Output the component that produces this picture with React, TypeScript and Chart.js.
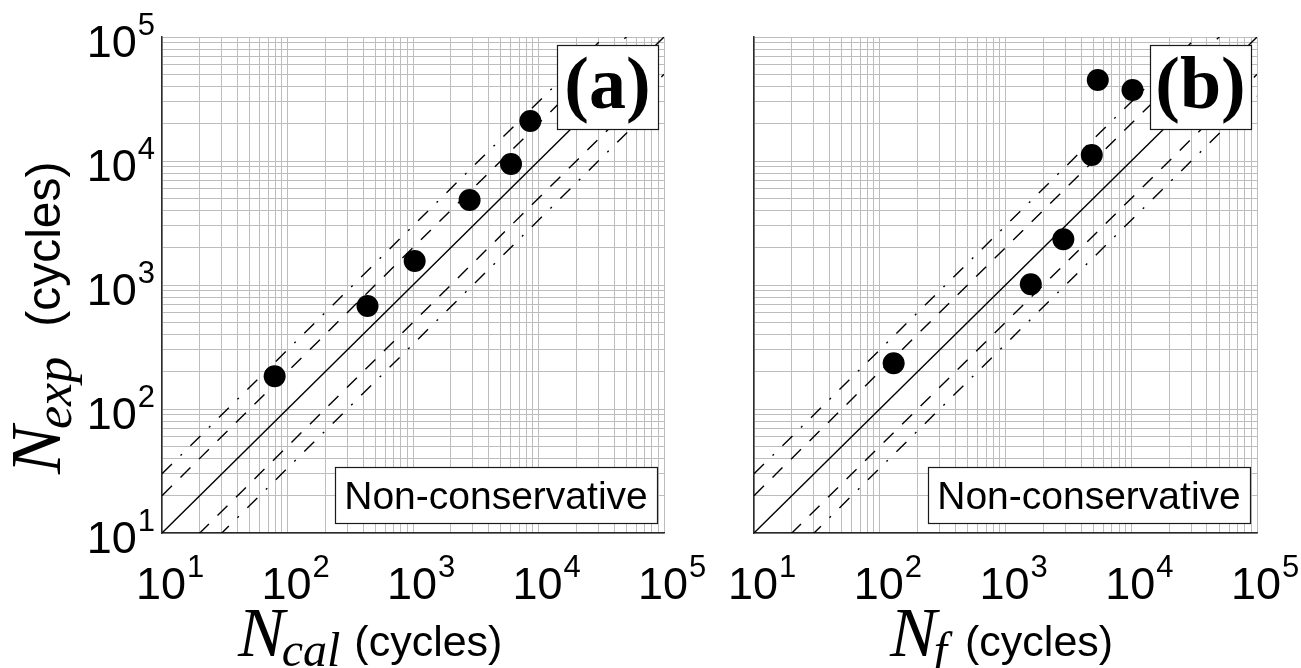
import { useEffect, useRef } from "react";
import { Chart, registerables } from "chart.js";

Chart.register(...registerables);

// Decade ticks shared by both log axes, with the exponent printed for each
const decadeValues = [10, 100, 1000, 10000, 100000];
const decadeExponents = ["1", "2", "3", "4", "5"];
// Mantissas for the minor log grid inside each decade
const gridMantissas = [1, 2, 3, 4, 5, 6, 7, 8, 9];

// Panel (a): calculated life against experimental life
const calculatedLife = [79, 434, 1031, 2825, 6039, 8610];
const experimentalLifeA = [184, 678, 1563, 4842, 9465, 21040];

// Panel (b): fatigue life against experimental life
const fatigueLife = [129, 1589, 2884, 4853, 5418, 10230];
const experimentalLifeB = [234, 1014, 2339, 11170, 44950, 37400];

// Scatter bands: perfect agreement, factor-of-2 and factor-of-3 limits
const agreementFactor = [1];
const factorTwoBand = [2, 0.5];
const factorThreeBand = [3, 1 / 3];
const diagonalEnds = [10, 100000];

const panelTags = ["(a)", "(b)"];
const regionLabel = "Non-conservative";
const xSubscripts = ["cal", "f"];
const ySubscript = "exp";
const unitText = "(cycles)";

const W = 1301;
const H = 668;
const SANS = '"Liberation Sans", Arial, sans-serif';
const SERIF = '"Liberation Serif", "Times New Roman", serif';

type Area = { left: number; top: number; right: number; bottom: number };

type PanelSpec = {
  xs: number[];
  ys: number[];
  area: Area;
  tag: string;
  xSub: string;
  xTitleLeft: number;
  xSubGap: number;
  showYAxisText: boolean;
};

function logGridTicks() {
  const ticks: { value: number; major: boolean }[] = [];
  for (let d = 0; d < decadeValues.length - 1; d++) {
    for (const m of gridMantissas) {
      ticks.push({ value: m * decadeValues[d], major: m === 1 });
    }
  }
  ticks.push({ value: decadeValues[decadeValues.length - 1], major: true });
  return ticks;
}

function drawBox(ctx: CanvasRenderingContext2D, x: number, y: number, w: number, h: number) {
  ctx.fillStyle = "#ffffff";
  ctx.fillRect(x, y, w, h);
  ctx.strokeStyle = "#1a1a1a";
  ctx.lineWidth = 1.2;
  ctx.strokeRect(Math.round(x) + 0.5, Math.round(y) + 0.5, Math.round(w), Math.round(h));
}

function annotationPlugin(spec: PanelSpec) {
  return {
    id: "panelText",
    afterDatasetsDraw(chart: any) {
      const ctx: CanvasRenderingContext2D = chart.ctx;
      const a = chart.chartArea;
      ctx.save();
      // panel tag in the upper right corner
      const tagW = 101;
      const tagH = 84;
      const tagX = a.right - 6 - tagW;
      const tagY = a.top + 8;
      drawBox(ctx, tagX, tagY, tagW, tagH);
      ctx.fillStyle = "#000";
      ctx.font = `bold 74px ${SERIF}`;
      ctx.textAlign = "center";
      ctx.textBaseline = "alphabetic";
      ctx.fillText(spec.tag, tagX + tagW / 2, tagY + 63);

      // region label in the lower right corner
      const boxW = 322;
      const boxH = 56;
      const boxX = a.right - 7 - boxW;
      const boxY = a.bottom - 10 - boxH;
      drawBox(ctx, boxX, boxY, boxW, boxH);
      ctx.fillStyle = "#000";
      ctx.font = `39px ${SANS}`;
      ctx.fillText(regionLabel, boxX + boxW / 2, boxY + boxH / 2 + 14);
      ctx.restore();
    },
    afterDraw(chart: any) {
      const ctx: CanvasRenderingContext2D = chart.ctx;
      const a = chart.chartArea;
      const xs = chart.scales.x;
      const ys = chart.scales.y;
      ctx.save();
      ctx.fillStyle = "#000";
      ctx.textBaseline = "alphabetic";
      const base = `45px ${SANS}`;
      const sup = `31px ${SANS}`;

      // x tick labels: "10" centred on the tick with the exponent raised after it
      decadeValues.forEach((v, i) => {
        const px = xs.getPixelForValue(v);
        ctx.font = base;
        ctx.textAlign = "center";
        const w10 = ctx.measureText("10").width;
        ctx.fillText("10", px - 1, a.bottom + 66);
        ctx.font = sup;
        ctx.textAlign = "left";
        ctx.fillText(decadeExponents[i], px - 1 + w10 / 2 + 1, a.bottom + 44);
      });

      if (spec.showYAxisText) {
        decadeValues.forEach((v, i) => {
          const py = ys.getPixelForValue(v);
          ctx.font = sup;
          ctx.textAlign = "right";
          const wSup = ctx.measureText(decadeExponents[i]).width;
          ctx.fillText(decadeExponents[i], a.left - 7, py - 2);
          ctx.font = base;
          ctx.fillText("10", a.left - 7 - wSup - 1, py + 20);
        });

        // rotated y title
        ctx.save();
        ctx.translate(60, 474);
        ctx.rotate(-Math.PI / 2);
        ctx.textAlign = "left";
        let cx = 0;
        ctx.font = `italic 72px ${SERIF}`;
        ctx.fillText("N", cx, 0);
        cx += ctx.measureText("N").width - 3;
        ctx.font = `italic 52px ${SERIF}`;
        ctx.fillText(ySubscript, cx, 11);
        cx += ctx.measureText(ySubscript).width + 30;
        ctx.font = `48px ${SANS}`;
        ctx.fillText(unitText, cx, 0);
        ctx.restore();
      }

      // x title
      let tx = spec.xTitleLeft;
      const tBase = 656;
      ctx.textAlign = "left";
      ctx.font = `italic 70px ${SERIF}`;
      ctx.fillText("N", tx, tBase);
      tx += ctx.measureText("N").width - 3;
      ctx.font = `italic 48px ${SERIF}`;
      ctx.fillText(spec.xSub, tx, tBase + 10);
      tx += ctx.measureText(spec.xSub).width + spec.xSubGap;
      ctx.font = `43px ${SANS}`;
      ctx.fillText(unitText, tx, tBase);
      ctx.restore();
    },
  };
}

function bandDataset(factor: number, dash: number[]) {
  return {
    data: diagonalEnds.map((v) => ({ x: v, y: v * factor })),
    showLine: true,
    pointRadius: 0,
    borderColor: "#000000",
    borderWidth: 1.4,
    borderDash: dash,
    fill: false,
  };
}

function logAxis() {
  return {
    type: "logarithmic" as const,
    min: decadeValues[0],
    max: decadeValues[decadeValues.length - 1],
    afterBuildTicks: (scale: any) => {
      scale.ticks = logGridTicks();
    },
    ticks: { display: false, autoSkip: false },
    grid: { color: "#bdbdbd", lineWidth: 1, drawTicks: false },
    border: { display: true, color: "#2a2a2a", width: 1.5 },
  };
}

function Panel({ spec }: { spec: PanelSpec }) {
  const ref = useRef<HTMLCanvasElement>(null);
  useEffect(() => {
    if (!ref.current) return;
    const a = spec.area;
    const chart = new Chart(ref.current, {
      type: "scatter",
      data: {
        datasets: [
          {
            data: spec.xs.map((x, i) => ({ x, y: spec.ys[i] })),
            pointRadius: 11,
            pointBackgroundColor: "#000000",
            pointBorderColor: "#000000",
            pointBorderWidth: 0,
            showLine: false,
          },
          ...agreementFactor.map((f) => bandDataset(f, [])),
          ...factorTwoBand.map((f) => bandDataset(f, [14, 12])),
          ...factorThreeBand.map((f) => bandDataset(f, [14, 12, 2, 12])),
        ],
      },
      options: {
        animation: false,
        responsive: false,
        events: [],
        layout: {
          padding: { left: a.left, top: a.top, right: W - a.right, bottom: H - a.bottom },
        },
        plugins: { legend: { display: false }, tooltip: { enabled: false } },
        scales: { x: logAxis(), y: logAxis() },
      } as any,
      plugins: [annotationPlugin(spec)],
    });
    return () => chart.destroy();
  }, [spec]);
  return (
    <canvas
      ref={ref}
      width={W}
      height={H}
      style={{ position: "absolute", left: 0, top: 0, width: W, height: H }}
    />
  );
}

const panelA: PanelSpec = {
  xs: calculatedLife,
  ys: experimentalLifeA,
  area: { left: 162, top: 37, right: 664, bottom: 533 },
  tag: panelTags[0],
  xSub: xSubscripts[0],
  xTitleLeft: 238,
  xSubGap: 14,
  showYAxisText: true,
};

const panelB: PanelSpec = {
  xs: fatigueLife,
  ys: experimentalLifeB,
  area: { left: 754, top: 37, right: 1257, bottom: 533 },
  tag: panelTags[1],
  xSub: xSubscripts[1],
  xTitleLeft: 890,
  xSubGap: 18,
  showYAxisText: false,
};

export default function App() {
  return (
    <div style={{ position: "absolute", left: 0, top: 0, width: W, height: H, background: "#fff" }}>
      <Panel spec={panelA} />
      <Panel spec={panelB} />
    </div>
  );
}
